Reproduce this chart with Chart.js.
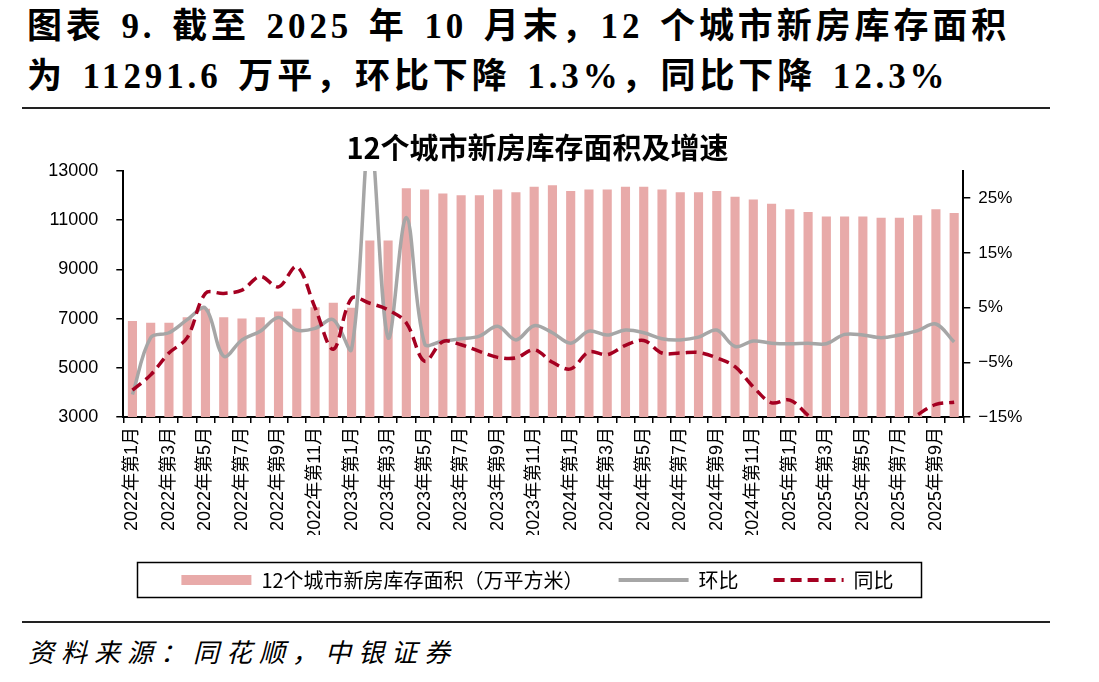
<!DOCTYPE html>
<html lang="zh-CN">
<head>
<meta charset="utf-8">
<title>12个城市新房库存面积及增速</title>
<script src="https://cdn.jsdelivr.net/npm/chart.js@4.4.1/dist/chart.umd.min.js"></script>
<style>
    html, body {
        margin: 0;
        padding: 0;
        background: #fff;
    }
    body {
        position: relative;
        width: 1099px;
        height: 682px;
        overflow: hidden;
    }
    .head {
        position: absolute;
        left: 27px;
        font-family: 'Liberation Serif', 'Noto Sans CJK SC', serif;
        font-weight: bold;
        font-size: 35px;
        line-height: 40px;
        letter-spacing: 3.9px;
        word-spacing: 4px;
        color: #000;
        white-space: nowrap;
    }
    .rule {
        position: absolute;
        left: 22px;
        width: 1028px;
        background: #222;
    }
    .source {
        position: absolute;
        left: 28px;
        top: 634px;
        font-family: 'Noto Sans CJK SC', sans-serif;
        font-style: italic;
        font-size: 26px;
        line-height: 34px;
        letter-spacing: 7px;
        color: #000;
    }
    #chartBox {
        position: absolute;
        left: 0;
        top: 125px;
        width: 1099px;
        height: 475px;
    }
</style>
</head>
<body>
<div class="head" style="top:7px">图表 9. 截至 2025 年 10 月末，12 个城市新房库存面积</div>
<div class="head" style="top:57px">为 11291.6 万平，环比下降 1.3%，同比下降 12.3%</div>
<div class="rule" style="top:107px;height:2px"></div>

<div id="chartBox"><canvas id="stockChart" width="1099" height="475"></canvas></div>

<div class="rule" style="top:621px;height:1.5px"></div>
<div class="source">资料来源：同花顺，中银证券</div>

<script>
// Months, 2022-01 .. 2025-10
const months = [
    '2022年第1月', '2022年第2月', '2022年第3月', '2022年第4月', '2022年第5月', '2022年第6月',
    '2022年第7月', '2022年第8月', '2022年第9月', '2022年第10月', '2022年第11月', '2022年第12月',
    '2023年第1月', '2023年第2月', '2023年第3月', '2023年第4月', '2023年第5月', '2023年第6月',
    '2023年第7月', '2023年第8月', '2023年第9月', '2023年第10月', '2023年第11月', '2023年第12月',
    '2024年第1月', '2024年第2月', '2024年第3月', '2024年第4月', '2024年第5月', '2024年第6月',
    '2024年第7月', '2024年第8月', '2024年第9月', '2024年第10月', '2024年第11月', '2024年第12月',
    '2025年第1月', '2025年第2月', '2025年第3月', '2025年第4月', '2025年第5月', '2025年第6月',
    '2025年第7月', '2025年第8月', '2025年第9月', '2025年第10月'
];

// 12个城市新房库存面积（万平方米）
const stockArea = [
    6900, 6830, 6830, 7050, 7400, 7050, 7000, 7050, 7290, 7400, 7460, 7640,
    7440, 10170, 10170, 12290, 12240, 12080, 12010, 12010, 12240, 12130, 12360, 12420,
    12180, 12240, 12240, 12360, 12360, 12240, 12130, 12130, 12180, 11950, 11840, 11670,
    11440, 11330, 11150, 11150, 11150, 11100, 11100, 11200, 11440, 11292
];

// 环比 (%)
const momChange = [
    -10.9, -0.5, 0.4, 2.8, 4.9, -3.9, -0.9, 0.7, 3.2, 0.9, 1.2, 2.8,
    -2.6, 36.5, -0.5, 21.5, -1.6, -1.1, -0.7, -0.2, 1.6, -0.9, 1.7, 0.4,
    -1.5, 0.7, 0.0, 0.9, 0.4, -0.7, -0.9, -0.4, 0.9, -2.1, -1.1, -1.5,
    -1.6, -1.5, -1.6, 0.1, 0.0, -0.5, 0.0, 0.8, 2.0, -1.3
];

// 同比 (%)
const yoyChange = [
    -10.1, -7.3, -3.3, -0.5, 7.6, 7.6, 8.2, 10.7, 8.8, 12.5, 5.0, -2.6,
    6.7, 5.8, 4.6, 2.2, -4.8, -1.2, -1.8, -3.0, -4.1, -4.2, -2.7, -5.0,
    -6.2, -3.1, -3.6, -1.9, -1.0, -3.3, -3.3, -3.2, -4.2, -5.8, -9.5, -12.4,
    -11.9, -14.7, -17.5, -19.0, -19.5, -19.0, -17.0, -14.6, -12.7, -12.3
];

// Axis ticks
const leftTicks = [3000, 5000, 7000, 9000, 11000, 13000];
const rightTicks = [-15, -5, 5, 15, 25];

const tickFont = "'Liberation Sans', 'Noto Sans CJK SC', sans-serif";
const cjkFont = "'Noto Sans CJK SC', 'Liberation Sans', sans-serif";
const legendFontSize = 20;

// Draws the thin frame round the legend row
const legendFrame = {
    id: 'legendFrame',
    afterDraw(chart) {
        const lg = chart.legend;
        if (!lg || !lg.lineWidths || !lg.lineWidths.length) return;
        const labelOpts = lg.options.labels;
        const pad = labelOpts.padding;
        const itemH = Math.max(legendFontSize, labelOpts.boxHeight || 0);
        const rowW = lg.lineWidths[0];
        const startX = (lg.left + pad + lg.right - rowW) / 2;
        const endX = startX + rowW - pad;
        const cy = lg.top + pad + itemH / 2;
        const ctx = chart.ctx;
        ctx.save();
        ctx.setLineDash([]);
        ctx.strokeStyle = '#000';
        ctx.lineWidth = 1.5;
        ctx.strokeRect(Math.round(startX - 44) + 0.5, Math.round(cy - 18) + 0.5, Math.round(endX - startX + 72), 35);
        ctx.restore();
    }
};

function buildLegendItems(chart) {
    return chart.data.datasets.map((ds, i) => ({
        text: ds.label,
        datasetIndex: i,
        fillStyle: ds.type === 'bar' ? ds.backgroundColor : ds.borderColor,
        strokeStyle: ds.type === 'bar' ? ds.backgroundColor : ds.borderColor,
        lineWidth: ds.type === 'bar' ? 0 : 4,
        lineDash: ds.borderDash || [],
        pointStyle: ds.type === 'bar' ? 'rect' : 'line',
        fontColor: '#000',
        hidden: false
    }));
}

function renderChart() {
    const ctx = document.getElementById('stockChart').getContext('2d');

    new Chart(ctx, {
        type: 'bar',
        data: {
            labels: months,
            datasets: [
                {
                    type: 'bar',
                    label: '12个城市新房库存面积（万平方米）',
                    data: stockArea,
                    backgroundColor: 'rgb(232,170,169)',
                    borderWidth: 0,
                    barPercentage: 0.5,
                    categoryPercentage: 1.0,
                    yAxisID: 'y',
                    order: 3
                },
                {
                    type: 'line',
                    label: '环比',
                    data: momChange,
                    borderColor: '#a6a6a6',
                    backgroundColor: '#a6a6a6',
                    borderWidth: 3.5,
                    pointRadius: 0,
                    tension: 0.35,
                    yAxisID: 'y1',
                    order: 2
                },
                {
                    type: 'line',
                    label: '同比',
                    data: yoyChange,
                    borderColor: '#a50021',
                    backgroundColor: '#a50021',
                    borderWidth: 3.5,
                    borderDash: [11, 6],
                    pointRadius: 0,
                    tension: 0.35,
                    yAxisID: 'y1',
                    order: 1
                }
            ]
        },
        options: {
            responsive: false,
            animation: false,
            layout: {
                padding: { left: 0, right: 24, top: 0, bottom: 0 }
            },
            plugins: {
                title: {
                    display: true,
                    text: '12个城市新房库存面积及增速',
                    color: '#000',
                    font: { family: cjkFont, size: 29, weight: 'bold', lineHeight: 1.1 },
                    padding: { top: 7, bottom: 7 }
                },
                legend: {
                    position: 'bottom',
                    labels: {
                        usePointStyle: true,
                        pointStyleWidth: 70,
                        boxHeight: 10,
                        padding: 35,
                        color: '#000',
                        font: { family: cjkFont, size: legendFontSize },
                        generateLabels: buildLegendItems
                    }
                },
                tooltip: { enabled: false }
            },
            scales: {
                x: {
                    grid: {
                        display: true,
                        drawOnChartArea: false,
                        drawTicks: true,
                        tickLength: 6,
                        color: '#000',
                        lineWidth: 1.5
                    },
                    border: { color: '#000', width: 2 },
                    ticks: {
                        autoSkip: false,
                        maxRotation: 90,
                        minRotation: 90,
                        padding: 4,
                        color: '#000',
                        font: { family: tickFont, size: 18 },
                        // every other month gets a label
                        callback: (v, i) => (i % 2 === 0 ? months[i] : '')
                    },
                    afterFit: (scale) => { scale.height = 118; }
                },
                y: {
                    position: 'left',
                    min: 3000,
                    max: 13000,
                    grid: {
                        drawOnChartArea: false,
                        drawTicks: true,
                        tickLength: 7,
                        color: '#000',
                        lineWidth: 1.5
                    },
                    border: { color: '#000', width: 2 },
                    ticks: {
                        padding: 18,
                        color: '#000',
                        font: { family: tickFont, size: 18 },
                        callback: (v) => String(v)
                    },
                    afterBuildTicks: (axis) => { axis.ticks = leftTicks.map(v => ({ value: v })); },
                    afterFit: (scale) => { scale.width = 123.3; }
                },
                y1: {
                    position: 'right',
                    min: -15,
                    max: 30,
                    grid: {
                        drawOnChartArea: false,
                        drawTicks: true,
                        tickLength: 7,
                        color: '#000',
                        lineWidth: 1.5
                    },
                    border: { color: '#000', width: 2 },
                    ticks: {
                        padding: 8,
                        color: '#000',
                        font: { family: tickFont, size: 17 },
                        callback: (v) => (v < 0 ? '\u2212' + Math.abs(v) : v) + '%'
                    },
                    afterBuildTicks: (axis) => { axis.ticks = rightTicks.map(v => ({ value: v })); },
                    afterFit: (scale) => { scale.width = 111.7; }
                }
            }
        },
        plugins: [legendFrame]
    });
}

document.addEventListener('DOMContentLoaded', renderChart);
</script>
</body>
</html>
